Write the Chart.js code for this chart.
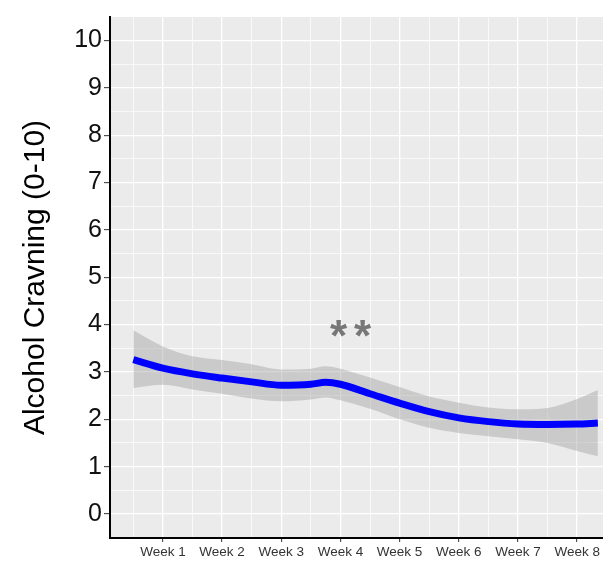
<!DOCTYPE html>
<html>
<head>
<meta charset="utf-8">
<script src="https://cdn.jsdelivr.net/npm/chart.js@4"></script>
<style>
  html, body { margin: 0; padding: 0; background: #fff; overflow: hidden; }
  canvas { display: block; }
</style>
</head>
<body>
<canvas id="craving-chart" width="603" height="562"></canvas>
<script>
// smoothed fit (x in weeks)
const weeks = [0.5, 1, 1.5, 2, 2.5, 3, 3.5, 3.75, 4, 4.5, 5, 5.5, 6, 6.5, 7, 7.5, 8, 8.35];
const fitted = [3.26, 3.08, 2.96, 2.87, 2.79, 2.72, 2.74, 2.78, 2.74, 2.54, 2.34, 2.16, 2.03, 1.95, 1.90, 1.89, 1.90, 1.92];
const upper = [3.88, 3.54, 3.33, 3.25, 3.16, 3.05, 3.07, 3.12, 3.07, 2.88, 2.68, 2.48, 2.35, 2.25, 2.21, 2.24, 2.43, 2.62];
const lower = [2.66, 2.73, 2.63, 2.54, 2.44, 2.38, 2.42, 2.46, 2.40, 2.22, 2.00, 1.82, 1.71, 1.64, 1.58, 1.50, 1.33, 1.22];

const weekLabels = ['Week 1', 'Week 2', 'Week 3', 'Week 4', 'Week 5', 'Week 6', 'Week 7', 'Week 8'];
const yTicks = [0, 1, 2, 3, 4, 5, 6, 7, 8, 9, 10];

// gridline positions (majors + half-step minors)
const xGrid = [0.5, 1, 1.5, 2, 2.5, 3, 3.5, 4, 4.5, 5, 5.5, 6, 6.5, 7, 7.5, 8];
const yGrid = [0, 0.5, 1, 1.5, 2, 2.5, 3, 3.5, 4, 4.5, 5, 5.5, 6, 6.5, 7, 7.5, 8, 8.5, 9, 9.5, 10];

// significance mark
const annotText = '**';
const annotX = 4.17;
const annotY = 3.82;

const toPts = ys => weeks.map((w, i) => ({ x: w, y: ys[i] }));
const isMajor = v => Math.abs(v - Math.round(v)) < 1e-6;
const font = size => ({ family: '"Liberation Sans", Arial, sans-serif', size });

const panelBg = {
  id: 'panelBg',
  beforeDraw(chart) {
    const { ctx, chartArea: a } = chart;
    ctx.save();
    ctx.fillStyle = '#ebebeb';
    ctx.fillRect(a.left, a.top, a.right - a.left, a.bottom - a.top);
    ctx.restore();
  }
};

const starLabel = {
  id: 'starLabel',
  afterDatasetsDraw(chart) {
    const { ctx, scales } = chart;
    const size = 44;
    const px = scales.x.getPixelForValue(annotX);
    const py = scales.y.getPixelForValue(annotY);
    ctx.save();
    ctx.font = 'bold ' + size + 'px "Liberation Sans", Arial, sans-serif';
    ctx.fillStyle = '#777777';
    ctx.textBaseline = 'alphabetic';
    // two stars, spaced a bit wider than the glyph advance
    const gap = 24;
    ctx.textAlign = 'center';
    ctx.fillText(annotText[0], px - gap / 2, py + size * 0.40);
    ctx.fillText(annotText[1], px + gap / 2, py + size * 0.40);
    ctx.restore();
  }
};

new Chart(document.getElementById('craving-chart').getContext('2d'), {
  type: 'line',
  data: {
    datasets: [
      {
        data: toPts(fitted),
        order: 0,
        borderColor: '#0000ff',
        borderWidth: 7,
        pointRadius: 0,
        fill: false,
        cubicInterpolationMode: 'monotone',
      },
      {
        data: toPts(upper),
        order: 2,
        borderColor: 'transparent',
        borderWidth: 0,
        pointRadius: 0,
        fill: false,
        cubicInterpolationMode: 'monotone',
      },
      {
        data: toPts(lower),
        order: 1,
        borderColor: 'transparent',
        borderWidth: 0,
        pointRadius: 0,
        fill: '-1',
        backgroundColor: 'rgba(153,153,153,0.4)',
        cubicInterpolationMode: 'monotone',
      },
    ],
  },
  options: {
    responsive: false,
    animation: false,
    events: [],
    layout: { padding: { top: 8, right: 0, left: 0, bottom: 0 } },
    plugins: {
      legend: { display: false },
      tooltip: { enabled: false },
    },
    scales: {
      x: {
        type: 'linear',
        bounds: 'data',
        min: 0.106,
        max: 8.437,
        afterBuildTicks: s => { s.ticks = xGrid.map(v => ({ value: v })); },
        afterFit: s => { s.height = 24; },
        border: { display: true, color: '#000', width: 2 },
        grid: {
          color: '#ffffff',
          lineWidth: c => isMajor(c.tick.value) ? 1.3 : 0.7,
          drawTicks: true,
          tickLength: 4,
          tickColor: c => isMajor(c.tick.value) ? '#333333' : 'transparent',
          tickWidth: 1,
        },
        ticks: {
          autoSkip: false,
          maxRotation: 0,
          padding: 2,
          color: '#333333',
          font: font(13.5),
          callback: v => isMajor(v) && v >= 1 && v <= 8 ? weekLabels[Math.round(v) - 1] : '',
        },
      },
      y: {
        type: 'linear',
        bounds: 'data',
        min: -0.508,
        max: 10.498,
        afterBuildTicks: s => { s.ticks = yGrid.map(v => ({ value: v })); },
        afterFit: s => { s.width = 110; },
        border: { display: true, color: '#000', width: 2 },
        grid: {
          color: '#ffffff',
          lineWidth: c => isMajor(c.tick.value) ? 1.3 : 0.7,
          drawTicks: true,
          tickLength: 6,
          tickColor: c => isMajor(c.tick.value) ? '#333333' : 'transparent',
          tickWidth: 1,
        },
        ticks: {
          autoSkip: false,
          padding: 2,
          color: '#111111',
          font: font(25),
          callback: v => isMajor(v) && yTicks.includes(Math.round(v)) ? String(Math.round(v)) : '',
        },
        title: {
          display: true,
          text: 'Alcohol Cravning (0-10)',
          color: '#000000',
          font: font(30),
          padding: { top: 18, bottom: 0 },
        },
      },
    },
  },
  plugins: [panelBg, starLabel],
});
</script>
</body>
</html>
